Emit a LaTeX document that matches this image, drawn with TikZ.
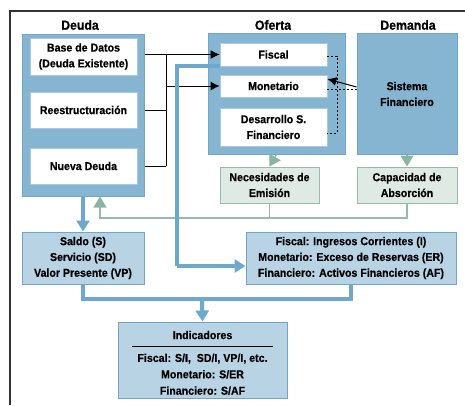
\documentclass[tikz,border=0pt]{standalone}
\usepackage{fontspec}
\setmainfont{Liberation Sans}[FakeStretch=0.93,BoldFeatures={FakeBold=0.6}]
\usepackage{tikz}
\usetikzlibrary{arrows.meta,positioning,calc}
\definecolor{panelblue}{RGB}{134,181,210}
\definecolor{panelline}{RGB}{112,166,200}
\definecolor{paleblue}{RGB}{184,212,228}
\definecolor{pipeblue}{RGB}{110,168,204}
\definecolor{palegreen}{RGB}{224,234,229}
\definecolor{greenline}{RGB}{150,186,172}
\definecolor{greentip}{RGB}{140,180,164}

\begin{document}
\begin{tikzpicture}[
    x=1pt, y=-1pt,
    font=\fontsize{11.4}{15.8}\selectfont\bfseries,
    panel/.style={
		rectangle,
		draw=panelline,
		line width=1pt,
		fill=panelblue,
		inner sep=0pt
	},
    item/.style={
		rectangle,
		draw=panelline!60,
		line width=0.8pt,
		fill=white,
		align=center,
		minimum width=107pt,
		inner sep=0pt
	},
    result/.style={
		rectangle,
		draw=panelline,
		line width=1pt,
		fill=paleblue,
		align=center,
		inner sep=0pt
	},
    need/.style={
		rectangle,
		draw=greenline,
		line width=1pt,
		fill=palegreen,
		align=center,
		inner sep=0pt
	},
    title/.style={
		font=\fontsize{13.2}{15}\selectfont\bfseries
	},
    feed/.style={
		draw=black,
		line width=1pt,
		-{Latex[length=9pt,width=9pt]}
	},
    hint/.style={
		draw=black,
		line width=1pt,
		dash pattern=on 2pt off 2pt
	},
    pipe/.style={
		draw=pipeblue,
		line width=4pt
	},
    pipearrow/.style={
		pipe,
		-{Triangle[length=11pt,width=13pt]}
	},
    back/.style={
		draw=greenline,
		line width=1.2pt
	},
    backarrow/.style={
		back,
		-{Triangle[length=11pt,width=13pt,color=greentip]}
	}
  ]
  \useasboundingbox (0,0) rectangle (465,405);
  \draw[line width=1.2pt, draw=black!80] (10,405) -- (10,11) -- (465,11);

    % We start by placing the panels
  \node[title] (tdeuda) at (80,25) {Deuda};
  \node[title] (toferta) at (273,25) {Oferta};
  \node[title] (tdemanda) at (408,25) {Demanda};

  \node[panel, minimum width=122pt, minimum height=162pt] (deuda) at (83,115) {};
  \node[panel, minimum width=137pt, minimum height=121pt] (oferta) at (276.5,93.5) {};
  \node[panel, minimum width=100pt, minimum height=121pt, align=center] (demanda) at (407,94)
   {Sistema\\Financiero};

  % debt blocks
  \node[item, minimum height=37pt] (base) at (83.5,56.5) {Base de Datos\\(Deuda Existente)};
  \node[item, minimum height=36pt] (reest) at (83.5,110) {Reestructuración};
  \node[item, minimum height=36pt] (nueva) at (83.5,166) {Nueva Deuda};

  % supply blocks
  \node[item, minimum height=23pt] (fiscal) at (273.5,54.5) {Fiscal};
  \node[item, minimum height=22pt] (monet) at (273.5,86) {Monetario};
  \node[item, minimum height=38pt] (desarr) at (273.5,127) {Desarrollo S.\\Financiero};

  \node[need, minimum width=99pt, minimum height=36pt] (necesid) at (269.5,185) {Necesidades de\\Emisión};
  \node[need, minimum width=100pt, minimum height=36pt] (capac) at (407,185) {Capacidad de\\Absorción};

  \node[result, minimum width=122pt, minimum height=52pt] (saldo) at (83,258)
   {Saldo (S)\\Servicio (SD)\\Valor Presente (VP)};
  \node[result, minimum width=210pt, minimum height=52pt] (ingresos) at (351,258)
   {Fiscal: Ingresos Corrientes (I)\\Monetario: Exceso de Reservas (ER)\\Financiero: Activos Financieros (AF)};
  \node[result, minimum width=169pt, minimum height=76pt,
        font=\fontsize{11.4}{16.4}\selectfont\bfseries] (indic) at (202.5,360)
   {\rule{0pt}{14pt}Indicadores\\[-9pt]\rule{141pt}{0.8pt}\\[-1pt]%
    Fiscal: S/I,\ \ SD/I, VP/I, etc.\\Monetario: S/ER\\Financiero: S/AF};

  % connectors
  \coordinate (bus) at (166,0);
  \coordinate (dotx) at (337,0);
  \coordinate (bluex) at (177,266);
  \coordinate (gjoin) at (100,218);
  \coordinate (bjoin) at (202,299);

  \draw[feed] (deuda.east |- fiscal) -- (fiscal.west);
  \draw[line width=1pt] (deuda.east |- reest) -- (bus |- reest);
  \draw[line width=1pt] (deuda.east |- nueva) -- (bus |- nueva);
  \draw[line width=1pt] (bus |- fiscal) -- (bus |- nueva);
  \draw[feed] (bus |- monet) -- (monet.west);

  \draw[hint] ([yshift=-1.5pt]fiscal.east) -- ([yshift=-1.5pt]fiscal.east -| dotx)
   -- ([yshift=-6pt]desarr.east -| dotx) -- ([yshift=-6pt]desarr.east);
  \draw[hint] ([yshift=-3pt]monet.east) -- ([yshift=-3pt]monet.east -| demanda.west);
  \draw[feed] ([yshift=7pt]demanda.west) -- ([yshift=7pt]monet.east);

  \draw[back, -{Triangle[length=11pt,width=13pt,color=greentip]}] (oferta.south) -- (necesid.north);
  \draw[back, -{Triangle[length=11pt,width=13pt,color=greentip]}] (demanda.south) -- (capac.north);
  \draw[back] (necesid.south) -- (necesid.south |- gjoin);
  \draw[backarrow] (capac.south) |- (gjoin) -- (gjoin |- deuda.south);

  \draw[pipearrow] (deuda.south) -- (saldo.north);
  \draw[pipe] (fiscal.south west) -| (bluex);
  \draw[pipearrow] (bluex) -- (bluex -| ingresos.west);
  \draw[pipe] (saldo.south) |- (bjoin) -| (ingresos.south);
  \draw[pipearrow] (bjoin) -- (indic.north);

\end{tikzpicture}
\end{document}
